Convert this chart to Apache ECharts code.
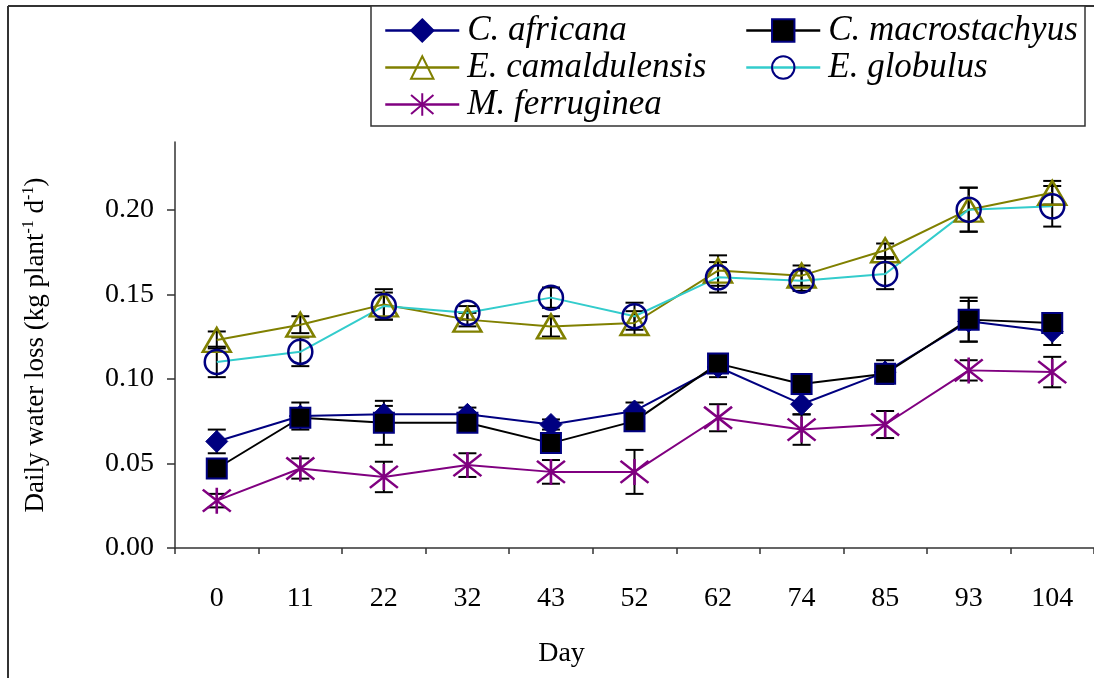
<!DOCTYPE html>
<html>
<head>
<meta charset="utf-8">
<style>
  html, body { margin: 0; padding: 0; background: #fff; }
  #chart { width: 1094px; height: 678px; }
</style>
<script src="https://cdn.jsdelivr.net/npm/echarts@6/dist/echarts.min.js"></script>
</head>
<body>
<div id="chart"></div>
<script>
// Sampling days (x categories)
const days = ['0', '11', '22', '32', '43', '52', '62', '74', '85', '93', '104'];

// Y axis ticks
const yTicks = [0, 0.05, 0.10, 0.15, 0.20];

// Daily water loss, kg plant-1 d-1 (mean and standard error)
const africana      = [0.063, 0.078, 0.079, 0.079, 0.073, 0.081, 0.107, 0.085, 0.104, 0.134, 0.128];
const africanaSE    = [0.007, 0.008, 0.005, 0.004, 0.003, 0.005, 0.006, 0.006, 0.007, 0.012, 0.008];
const macrostachyus   = [0.047, 0.077, 0.074, 0.074, 0.062, 0.075, 0.109, 0.097, 0.103, 0.135, 0.133];
const macrostachyusSE = [0.005, 0.004, 0.013, 0.004, 0.003, 0.004, 0.004, 0.004, 0.004, 0.013, 0.004];
const camaldulensis   = [0.123, 0.132, 0.144, 0.135, 0.131, 0.133, 0.164, 0.161, 0.176, 0.200, 0.210];
const camaldulensisSE = [0.005, 0.005, 0.009, 0.004, 0.006, 0.007, 0.009, 0.006, 0.004, 0.013, 0.007];
const globulus      = [0.110, 0.116, 0.143, 0.139, 0.148, 0.137, 0.160, 0.158, 0.162, 0.200, 0.202];
const globulusSE    = [0.009, 0.0085, 0.008, 0.004, 0.006, 0.008, 0.009, 0.006, 0.009, 0.013, 0.012];
const ferruginea    = [0.028, 0.047, 0.042, 0.049, 0.045, 0.045, 0.077, 0.070, 0.073, 0.105, 0.104];
const ferrugineaSE  = [0.004, 0.006, 0.009, 0.007, 0.007, 0.013, 0.008, 0.009, 0.008, 0.006, 0.009];

const speciesNames = ['C. africana', 'C. macrostachyus', 'E. camaldulensis', 'E. globulus', 'M. ferruginea'];

const SERIF = '"Liberation Serif", "Times New Roman", serif';
const NAVY = '#000080', OLIVE = '#808000', TURQ = '#33CCCC', PURPLE = '#800080';
const NONE = 'rgba(0,0,0,0)';
const ASTERISK = 'path://M14 0 L14 26 M0 2 L28 24 M0 24 L28 2';

// Error bar rows: [category index, low, high]
function errRows(mean, se) {
  return mean.map((m, i) => [i, m - se[i], m + se[i]]);
}
const errData = [].concat(
  errRows(africana, africanaSE),
  errRows(macrostachyus, macrostachyusSE),
  errRows(camaldulensis, camaldulensisSE),
  errRows(globulus, globulusSE),
  errRows(ferruginea, ferrugineaSE)
);

function renderErr(params, api) {
  const x = api.value(0);
  const lo = api.coord([x, api.value(1)]);
  const hi = api.coord([x, api.value(2)]);
  const w = 9;
  const style = { stroke: '#000', lineWidth: 2, fill: null };
  return {
    type: 'group',
    children: [
      { type: 'line', shape: { x1: lo[0], y1: lo[1], x2: hi[0], y2: hi[1] }, style },
      { type: 'line', shape: { x1: hi[0] - w, y1: hi[1], x2: hi[0] + w, y2: hi[1] }, style },
      { type: 'line', shape: { x1: lo[0] - w, y1: lo[1], x2: lo[0] + w, y2: lo[1] }, style }
    ]
  };
}

function lineSeries(name, data, lineColor, symbol, size, itemStyle) {
  return {
    name, type: 'line', data,
    symbol, symbolSize: size,
    lineStyle: { color: lineColor, width: 2 },
    itemStyle: itemStyle,
    emphasis: { disabled: true },
    z: 3
  };
}

// Two legend columns inside one framed box
function legendColumn(left, names) {
  return {
    left, top: 13, orient: 'vertical',
    itemWidth: 74, itemHeight: 28, itemGap: 2, padding: 0,
    lineStyle: { width: 2.5 },
    selectedMode: false,
    textStyle: { fontFamily: SERIF, fontStyle: 'italic', fontSize: 35, color: '#000', padding: [0, 0, 0, 3] },
    data: names
  };
}

const chart = echarts.init(document.getElementById('chart'));
chart.setOption({
  animation: false,
  backgroundColor: '#fff',
  grid: { left: 175, top: 142, width: 926, height: 406, containLabel: false },
  legend: [
    legendColumn(384, [speciesNames[0], speciesNames[2], speciesNames[4]]),
    legendColumn(745, [speciesNames[1], speciesNames[3]])
  ],
  xAxis: {
    type: 'category', data: days, boundaryGap: true,
    axisLine: { lineStyle: { color: '#333', width: 1.5 } },
    axisTick: { show: true, length: 6, lineStyle: { color: '#333', width: 1.5 } },
    axisLabel: { margin: 37, fontFamily: SERIF, fontSize: 28, color: '#000' },
    splitLine: { show: false },
    name: 'Day', nameLocation: 'middle', nameGap: 92,
    nameTextStyle: { fontFamily: SERIF, fontSize: 28, color: '#000', padding: [0, 146, 0, 0] }
  },
  yAxis: {
    type: 'value', min: 0, max: 0.24,
    axisLine: { show: true, lineStyle: { color: '#333', width: 1.5 } },
    axisTick: { show: true, length: 8, customValues: yTicks, lineStyle: { color: '#333', width: 1.5 } },
    axisLabel: {
      customValues: yTicks, margin: 21,
      fontFamily: SERIF, fontSize: 28, color: '#000',
      formatter: v => v.toFixed(2)
    },
    splitLine: { show: false },
    name: 'Daily water loss (kg plant{sup|-1} d{sup|-1})',
    nameLocation: 'middle', nameRotate: 90, nameGap: 124,
    nameTextStyle: {
      fontFamily: SERIF, fontSize: 27, color: '#000', lineHeight: 30,
      rich: { sup: { fontFamily: SERIF, fontSize: 16, color: '#000', verticalAlign: 'top', lineHeight: 16 } }
    }
  },
  graphic: [
    { type: 'line', shape: { x1: 8, y1: 6, x2: 1094, y2: 6 }, style: { stroke: '#333', lineWidth: 2 }, z: -1 },
    { type: 'line', shape: { x1: 8, y1: 6, x2: 8, y2: 678 }, style: { stroke: '#333', lineWidth: 2 }, z: -1 },
    { type: 'rect', shape: { x: 371, y: 6, width: 714, height: 120 }, style: { stroke: '#333', lineWidth: 1.5, fill: '#fff' }, z: -1 }
  ],
  series: [
    {
      type: 'custom', name: 'SE', data: errData,
      renderItem: renderErr, z: 2, silent: true,
      encode: { x: 0, y: [1, 2] }
    },
    lineSeries(speciesNames[0], africana, NAVY, 'diamond', [22, 22], { color: NAVY, borderColor: NAVY, borderWidth: 1 }),
    lineSeries(speciesNames[1], macrostachyus, '#000', 'rect', [20, 20], { color: '#000', borderColor: NAVY, borderWidth: 2 }),
    lineSeries(speciesNames[2], camaldulensis, OLIVE, 'triangle', [28, 24], { color: NONE, borderColor: OLIVE, borderWidth: 2.5 }),
    lineSeries(speciesNames[3], globulus, TURQ, 'circle', [24, 24], { color: NONE, borderColor: NAVY, borderWidth: 2.5 }),
    lineSeries(speciesNames[4], ferruginea, PURPLE, ASTERISK, [28, 26], { color: NONE, borderColor: PURPLE, borderWidth: 2.5 })
  ]
});
</script>
</body>
</html>
